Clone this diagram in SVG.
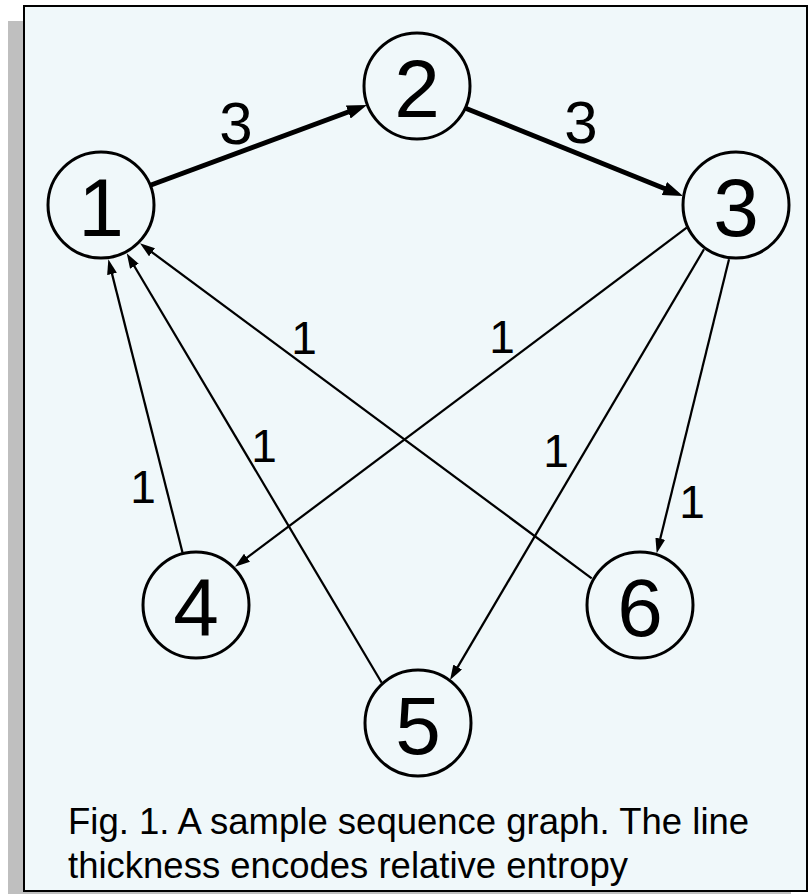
<svg xmlns="http://www.w3.org/2000/svg" width="811" height="894" viewBox="0 0 811 894">
<style>
.node circle{fill:none;stroke:#000;stroke-width:3}
.node text{font-family:"Liberation Sans",Arial,sans-serif;font-size:82px;text-anchor:middle;fill:#000}
.edge{fill:none;stroke:#000;stroke-width:2.25}
.thick{stroke-width:5}
.lbl{font-family:"Liberation Sans",Arial,sans-serif;font-size:46px;text-anchor:middle;fill:#000}
.lbl3{font-size:60px}
.cap{font-family:"Liberation Sans",Arial,sans-serif;font-size:36.5px;fill:#000}
</style>
<defs>
<marker id="ah" markerUnits="userSpaceOnUse" markerWidth="15" markerHeight="10" refX="7" refY="5" orient="auto" viewBox="0 0 15 10">
<path d="M0,0 L15,5 L0,10 z" fill="#000"/>
</marker>
<marker id="ahT" markerUnits="userSpaceOnUse" markerWidth="20" markerHeight="14" refX="10" refY="7" orient="auto" viewBox="0 0 20 14">
<path d="M0,0 L20,7 L0,14 z" fill="#000"/>
</marker>
</defs>
<rect x="8" y="21" width="783" height="886" fill="#BFBFBF"/>
<rect x="24" y="6" width="783" height="885" fill="#F0F8FA" stroke="#000" stroke-width="2"/>
<g id="connectors">
<path class="edge thick" d="M151,185 L357.6,108.5" marker-end="url(#ahT)"/>
<path class="edge thick" d="M465,108 L673.7,192.3" marker-end="url(#ahT)"/>
<path class="edge" d="M686.7,227.7 L241.4,561.9" marker-end="url(#ah)"/>
<path class="edge" d="M704,249.3 L454.1,673.1" marker-end="url(#ah)"/>
<path class="edge" d="M729,259.3 L658.6,545.5" marker-end="url(#ah)"/>
<path class="edge" d="M182.7,553.3 L110.3,267.1" marker-end="url(#ah)"/>
<path class="edge" d="M381.7,682.7 L130.8,260.2" marker-end="url(#ah)"/>
<path class="edge" d="M591.7,578.3 L146.4,248.1" marker-end="url(#ah)"/>
</g>
<g id="edge-labels">
<text class="lbl lbl3" x="236" y="144">3</text>
<text class="lbl lbl3" x="581" y="143">3</text>
<text class="lbl" x="304" y="354">1</text>
<text class="lbl" x="502" y="353">1</text>
<text class="lbl" x="264" y="462">1</text>
<text class="lbl" x="556" y="467">1</text>
<text class="lbl" x="692" y="518">1</text>
<text class="lbl" x="143" y="503">1</text>
</g>
<g id="node1" class="node"><circle cx="101" cy="205" r="53"/><text x="101" y="236">1</text></g>
<g id="node2" class="node"><circle cx="417" cy="86" r="53"/><text x="417" y="117">2</text></g>
<g id="node3" class="node"><circle cx="736" cy="205" r="53"/><text x="736" y="236">3</text></g>
<g id="node4" class="node"><circle cx="196" cy="605" r="53"/><text x="196" y="636">4</text></g>
<g id="node5" class="node"><circle cx="418" cy="723" r="53"/><text x="418" y="754">5</text></g>
<g id="node6" class="node"><circle cx="640" cy="605" r="53"/><text x="640" y="636">6</text></g>
<g id="caption">
<text class="cap" x="68" y="834">Fig. 1. A sample sequence graph. The line</text>
<text class="cap" x="68" y="878">thickness encodes relative entropy</text>
</g>
</svg>
